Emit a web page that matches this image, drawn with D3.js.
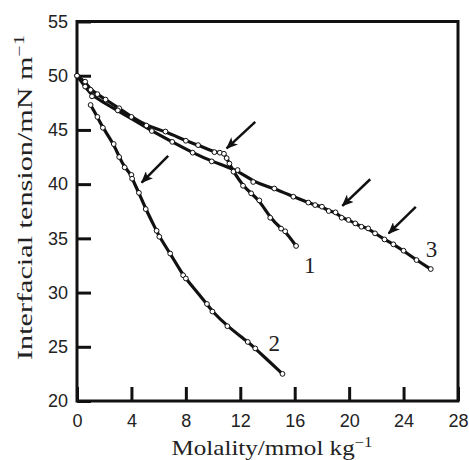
<!DOCTYPE html>
<html>
<head>
<meta charset="utf-8">
<script src="https://cdn.jsdelivr.net/npm/d3@7"></script>
<style>
  body { margin: 0; background: #fff; }
  svg { display: block; }
  .tick text { font-family: "Liberation Sans", Arial, sans-serif; font-size: 18px; fill: #222; }
  .lbl { font-family: "Liberation Serif", "Times New Roman", serif; font-size: 21px; fill: #222; }
</style>
</head>
<body>
<svg id="chart" width="469" height="460"></svg>
<script>
// curve 1
const molality1 = [0, 0.6, 1.0, 1.5, 2.1, 3.1, 4.0, 5.1, 6.5, 8.0, 8.9, 10.1, 10.5, 10.8, 11.0, 11.2, 11.5, 12.2, 12.8, 13.4, 14.2, 15.0, 15.3, 16.1]
const tension1 = [50.0, 49.45, 48.7, 48.3, 47.8, 47.0, 46.2, 45.4, 44.85, 44.0, 43.6, 42.95, 42.9, 42.8, 42.4, 41.9, 41.15, 39.85, 39.15, 38.5, 36.9, 35.9, 35.65, 34.3]
// curve 2
const molality2 = [1.0, 1.5, 1.9, 2.7, 3.1, 3.5, 4.0, 4.05, 4.55, 5.05, 5.85, 6.05, 6.85, 7.8, 8.0, 9.55, 9.95, 11.05, 12.55, 13.1, 15.1]
const tension2 = [47.3, 46.2, 45.2, 43.7, 42.5, 41.55, 40.85, 40.5, 39.2, 37.7, 35.7, 35.15, 33.6, 31.6, 31.3, 28.95, 28.25, 26.9, 25.45, 24.85, 22.5]
// curve 3
const molality3 = [0, 0.6, 1.1, 3.0, 5.5, 7.0, 8.5, 9.9, 11.8, 12.95, 14.5, 15.9, 17.0, 17.5, 18.0, 18.5, 19.0, 19.45, 19.95, 20.45, 20.9, 21.4, 21.9, 22.6, 23.25, 24.0, 24.95, 26.0]
const tension3 = [50.0, 49.0, 48.1, 46.8, 44.9, 43.9, 42.9, 42.1, 41.3, 40.2, 39.6, 38.84, 38.3, 38.07, 37.92, 37.52, 37.4, 36.9, 36.7, 36.38, 36.07, 35.92, 35.46, 34.9, 34.45, 33.86, 33.0, 32.17]

const xTicks = [0, 4, 8, 12, 16, 20, 24, 28]
const yTicks = [20, 25, 30, 35, 40, 45, 50, 55]

// arrows: tail -> tip
const arrowFromX = [6.7, 13.1, 21.55, 24.9]
const arrowFromY = [42.6, 45.75, 40.45, 37.9]
const arrowToX = [4.75, 11.0, 19.5, 22.9]
const arrowToY = [40.15, 43.3, 38.0, 35.45]

const curveNames = ['1', '2', '3']
const curveLabelX = [17.1, 14.5, 26.05]
const curveLabelY = [31.85, 24.6, 33.25]

const svg = d3.select('#chart')
const padL = 77, padR = 458, padT = 21.5, padB = 401

const x = d3.scaleLinear().domain([0, 28]).range([padL, padR])
const y = d3.scaleLinear().domain([20, 55]).range([padB, padT])

// axes with inward ticks
const gx = svg.append('g')
    .attr('transform', `translate(0,${padB})`)
    .call(d3.axisBottom(x).tickValues(xTicks).tickSizeInner(-14).tickSizeOuter(0).tickPadding(13))
const gy = svg.append('g')
    .attr('transform', `translate(${padL},0)`)
    .call(d3.axisLeft(y).tickValues(yTicks).tickSizeInner(-14).tickSizeOuter(0).tickPadding(9))
;[gx, gy].forEach(g => {
    g.select('.domain').remove()
    g.selectAll('.tick line').attr('stroke', '#111').attr('stroke-width', 3)
})

svg.append('rect')
    .attr('x', padL).attr('y', padT)
    .attr('width', padR - padL).attr('height', padB - padT)
    .attr('fill', 'none').attr('stroke', '#111').attr('stroke-width', 3)

const line = d3.line().x(d => x(d[0])).y(d => y(d[1])).curve(d3.curveBasis)

const series = [
    d3.zip(molality1, tension1),
    d3.zip(molality2, tension2),
    d3.zip(molality3, tension3)
]

series.forEach(s => {
    svg.append('path')
        .attr('d', line(s))
        .attr('fill', 'none')
        .attr('stroke', '#111')
        .attr('stroke-width', 3.2)
})

series.forEach(s => {
    svg.append('g').selectAll('circle')
        .data(s)
        .enter()
            .append('circle')
            .attr('cx', d => x(d[0]))
            .attr('cy', d => y(d[1]))
            .attr('r', 2.4)
            .attr('fill', '#fff')
            .attr('stroke', '#111')
            .attr('stroke-width', 1)
})

svg.append('defs').append('marker')
    .attr('id', 'head')
    .attr('markerUnits', 'userSpaceOnUse')
    .attr('viewBox', '0 0 12 10')
    .attr('refX', 11).attr('refY', 5)
    .attr('markerWidth', 12).attr('markerHeight', 10)
    .attr('orient', 'auto')
    .append('path')
        .attr('d', 'M0,0 L12,5 L0,10 L3,5 Z')
        .attr('fill', '#111')

arrowFromX.forEach((fx, i) => {
    svg.append('line')
        .attr('x1', x(fx)).attr('y1', y(arrowFromY[i]))
        .attr('x2', x(arrowToX[i])).attr('y2', y(arrowToY[i]))
        .attr('stroke', '#111')
        .attr('stroke-width', 2.5)
        .attr('marker-end', 'url(#head)')
})

curveNames.forEach((n, i) => {
    svg.append('text')
        .attr('class', 'lbl')
        .attr('x', x(curveLabelX[i]))
        .attr('y', y(curveLabelY[i]))
        .attr('text-anchor', 'middle')
        .style('font-size', '23px')
        .text(n)
})

svg.append('text')
    .attr('class', 'lbl')
    .attr('x', 272).attr('y', 455)
    .attr('text-anchor', 'middle')
    .attr('textLength', 201)
    .attr('lengthAdjust', 'spacingAndGlyphs')
    .html('Molality/mmol kg<tspan dy="-8" font-size="14">−1</tspan>')

svg.append('text')
    .attr('class', 'lbl')
    .attr('transform', 'translate(32,197.5) rotate(-90)')
    .attr('text-anchor', 'middle')
    .attr('textLength', 325)
    .attr('lengthAdjust', 'spacingAndGlyphs')
    .html('Interfacial tension/mN m<tspan dy="-8" font-size="14">−1</tspan>')
</script>
</body>
</html>
